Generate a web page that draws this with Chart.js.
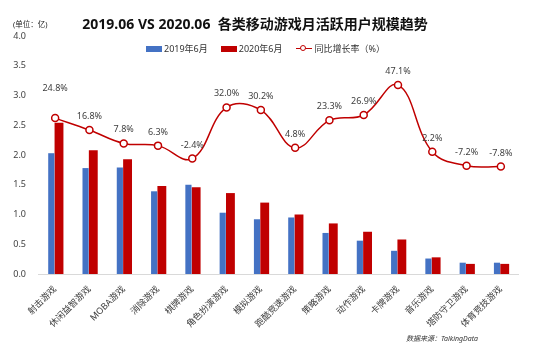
<!DOCTYPE html>
<html>
<head>
<meta charset="utf-8">
<script src="https://cdn.jsdelivr.net/npm/chart.js@4"></script>
<style>
  body { margin: 0; background: #fff; font-family: "Noto Sans", "Noto Sans CJK SC", sans-serif; }
  #wrap { position: relative; width: 545px; height: 350px; }
  canvas { position: absolute; left: 0; top: 0; }
  .txt { position: absolute; white-space: nowrap; color: #222; }
  #title { left: 0; width: 510px; top: 13px; text-align: center; font-size: 14px; font-weight: bold; color: #111; }
  #unit { left: 13px; top: 18px; font-size: 7.5px; }
  #legend { left: 146px; top: 42px; font-size: 9px; color: #333; display: flex; align-items: center; }
  #legend .item { display: flex; align-items: center; margin-right: 13px; }
  #legend .box { width: 16px; height: 6px; margin-right: 2px; }
  #legend .ln { position: relative; width: 16px; height: 1.5px; background: #C00000; margin-right: 3px; }
  #legend .ln i { position: absolute; left: 4.5px; top: -3px; width: 4px; height: 4px; border: 1.5px solid #C00000; border-radius: 50%; background: #fff; }
  #source { left: 406px; top: 333px; font-size: 7px; font-style: italic; color: #333; }
</style>
</head>
<body>
<div id="wrap">
  <canvas id="chart" width="545" height="350"></canvas>
  <div class="txt" id="title">2019.06 VS 2020.06&nbsp; 各类移动游戏月活跃用户规模趋势</div>
  <div class="txt" id="unit">(单位：亿)</div>
  <div class="txt" id="legend">
    <span class="item"><span class="box" style="background:#4472C4"></span>2019年6月</span>
    <span class="item"><span class="box" style="background:#C00000"></span>2020年6月</span>
    <span class="item"><span class="ln"><i></i></span>同比增长率（%）</span>
  </div>
  <div class="txt" id="source">数据来源：TalkingData</div>
</div>
<script>
// categories and series (user scale, 100 million)
var categories = ["射击游戏", "休闲益智游戏", "MOBA游戏", "消除游戏", "棋牌游戏", "角色扮演游戏", "模拟游戏",
                  "跑酷竞速游戏", "策略游戏", "动作游戏", "卡牌游戏", "音乐游戏", "塔防守卫游戏", "体育竞技游戏"];
var users2019 = [2.03, 1.78, 1.79, 1.39, 1.50, 1.03, 0.92, 0.95, 0.69, 0.56, 0.39, 0.26, 0.19, 0.19];
var users2020 = [2.54, 2.08, 1.93, 1.48, 1.46, 1.36, 1.20, 1.00, 0.85, 0.71, 0.58, 0.28, 0.17, 0.17];
var growth = [24.8, 16.8, 7.8, 6.3, -2.4, 32.0, 30.2, 4.8, 23.3, 26.9, 47.1, 2.2, -7.2, -7.8];

Chart.defaults.font.family = '"Noto Sans", "Noto Sans CJK SC", sans-serif';
Chart.defaults.color = '#404040';

// percent labels over the growth line
var growthLabels = {
    id: 'growthLabels',
    afterDatasetsDraw: function(chart) {
        var meta = chart.getDatasetMeta(2);
        var ctx = chart.ctx;
        ctx.save();
        ctx.font = '9px "Noto Sans", "Noto Sans CJK SC", sans-serif';
        ctx.fillStyle = '#404040';
        ctx.textAlign = 'center';
        ctx.textBaseline = 'bottom';
        meta.data.forEach(function(pt, i) {
            var lift = i === 0 ? 25 : 9;   // first label sits higher in the original
            ctx.fillText(growth[i].toFixed(1) + '%', pt.x, pt.y - lift);
        });
        ctx.restore();
    }
};

new Chart(document.getElementById('chart'), {
    data: {
        labels: categories,
        datasets: [{
            type: 'bar',
            label: '2019年6月',
            data: users2019,
            backgroundColor: '#4472C4',
            categoryPercentage: 0.45,
            barPercentage: 0.8,
            order: 1
        }, {
            type: 'bar',
            label: '2020年6月',
            data: users2020,
            backgroundColor: '#C00000',
            categoryPercentage: 0.45,
            barPercentage: 1.15,
            order: 1
        }, {
            type: 'line',
            label: '同比增长率（%）',
            data: growth,
            yAxisID: 'y1',
            borderColor: '#C00000',
            borderWidth: 1.5,
            tension: 0.4,
            pointRadius: 3.5,
            pointBackgroundColor: '#fff',
            pointBorderColor: '#C00000',
            pointBorderWidth: 1.5,
            order: 0
        }]
    },
    options: {
        responsive: false,
        animation: false,
        layout: { padding: { left: 10, right: 27, top: 36, bottom: 0 } },
        plugins: {
            legend: { display: false },
            title: { display: false },
            tooltip: { enabled: false }
        },
        scales: {
            x: {
                grid: { display: false },
                border: { display: true, color: '#d9d9d9', width: 1 },
                ticks: { font: { size: 9 }, maxRotation: 45, minRotation: 45, padding: 2 },
                afterFit: function(scale) { scale.height = 76; }
            },
            y: {
                min: 0,
                max: 4,
                grid: { display: false, drawTicks: false },
                border: { display: false },
                ticks: {
                    stepSize: 0.5,
                    font: { size: 9 },
                    padding: 12,
                    callback: function(v) { return v.toFixed(1); }
                },
                afterFit: function(scale) { scale.width = 28; }
            },
            y1: {
                display: false,
                min: -80,
                max: 80
            }
        }
    },
    plugins: [growthLabels]
});
</script>
</body>
</html>
